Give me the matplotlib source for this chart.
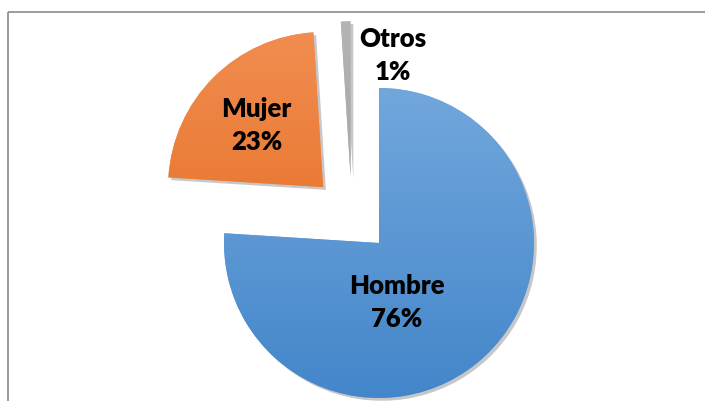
import numpy as np
import matplotlib
matplotlib.use('Agg')
import matplotlib.pyplot as plt
import matplotlib.patheffects as pe
from matplotlib.colors import LinearSegmentedColormap

# datos
categorias = ['Hombre', 'Mujer', 'Otros']
porcentajes = [76, 23, 1]
etiquetas = ['76%', '23%', '1%']
separacion = [0.0, 0.51, 0.43]

# colores (arriba, abajo) para el degradado
colores_top = ['#72a7dc', '#f18d50', '#b4b4b4']
colores_bot = ['#4386ca', '#e3691c', '#999999']

fig = plt.figure(figsize=(7.05, 4.01), dpi=100)
ax = fig.add_axes([0, 0, 1, 1])

# centro del pie en pixeles (379, 243), radio 155 px
R = 155.0
xl = (-379 / R, (705 - 379) / R)
yl = (-(401 - 243) / R, 243 / R)
ax.set_aspect('auto')
ax.axis('off')

wedges, _ = ax.pie(porcentajes, startangle=90, counterclock=False, explode=separacion,
                   radius=1.0, colors=colores_top, normalize=True,
                   wedgeprops=dict(linewidth=0))

# el sector 'Otros' en el original queda desplazado hacia la izquierda
cx, cy = wedges[2].center
wedges[2].set_center((cx - 0.17, cy))

for i, w in enumerate(wedges):
    w.set_path_effects([pe.SimplePatchShadow(offset=(2, -2), shadow_rgbFace='black', alpha=0.22),
                        pe.Normal()])
    w.set_zorder(2)
    # degradado vertical recortado al sector
    cmap = LinearSegmentedColormap.from_list('g%d' % i, [colores_bot[i], colores_top[i]])
    c = w.center
    grad = np.linspace(0, 1, 256).reshape(-1, 1)
    im = ax.imshow(grad, cmap=cmap, origin='lower', aspect='auto',
                   extent=[c[0] - 1, c[0] + 1, c[1] - 1, c[1] + 1], zorder=3)
    im.set_clip_path(w)

ax.set_xlim(*xl)
ax.set_ylim(*yl)

# marco del grafico (solo arriba e izquierda visibles)
y_top = 1 - 11.5 / 401
x_izq = 7.5 / 705
ax.plot([x_izq, 1.0], [y_top, y_top], transform=ax.transAxes, color='#8a8a8a',
        lw=1.2, clip_on=False, zorder=1, solid_capstyle='butt')
ax.plot([x_izq, x_izq], [0, y_top], transform=ax.transAxes, color='#8a8a8a',
        lw=1.2, clip_on=False, zorder=1, solid_capstyle='butt')

# posiciones de las etiquetas (relativas al centro de cada sector)
desplaz_etiq = [(0.116, -0.385), (-0.43, 0.40), (0.27, 0.78)]
for w, cat, et, d in zip(wedges, categorias, etiquetas, desplaz_etiq):
    c = w.center
    ax.text(c[0] + d[0], c[1] + d[1], cat + '\n' + et, ha='center', va='center',
            fontsize=18.5, fontweight='heavy', family='Lato', color='black',
            linespacing=1.45, zorder=5)

fig.savefig('out.png', dpi=100, facecolor='white')
